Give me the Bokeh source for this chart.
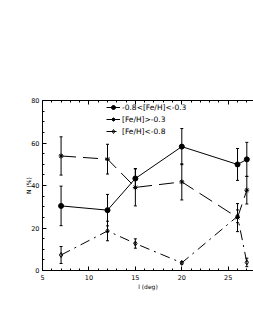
from bokeh.plotting import figure
from bokeh.models import (Range1d, LinearAxis, SingleIntervalTicker, Whisker, TeeHead,
                          ColumnDataSource, Legend, LegendItem)
from bokeh.embed import file_html
from bokeh.resources import INLINE

# data
l_deg = [7, 12, 15, 20, 26, 27]
mid_vals = [30.4, 28.4, 43.3, 58.3, 49.9, 52.3]      # -0.8<[Fe/H]<-0.3
mid_err = [9.3, 7.4, 4.7, 8.5, 7.5, 8.0]
rich_vals = [53.9, 52.4, 39.1, 41.7, 24.9, 37.8]     # [Fe/H]>-0.3
rich_err = [9.0, 7.0, 8.7, 8.5, 6.6, 6.5]
poor_vals = [7.3, 18.6, 12.7, 3.6, 25.5, 3.8]        # [Fe/H]<-0.8
poor_err = [4.0, 4.6, 2.2, 0.6, 3.0, 2.0]
labels = ["-0.8<[Fe/H]<-0.3", "[Fe/H]>-0.3", "[Fe/H]<-0.8"]
x_ticks = [5, 10, 15, 20, 25]

FONT = "DejaVu Sans"

p = figure(width=253, height=300, x_range=Range1d(5, 27.72), y_range=Range1d(0, 80),
           output_backend="svg", toolbar_location=None,
           min_border_left=42, min_border_right=0, min_border_top=100, min_border_bottom=30,
           x_axis_label="l (deg)", y_axis_label="N (%)")
p.grid.visible = False
p.outline_line_color = None
p.background_fill_color = "white"

bottom = p.below[0]
left = p.left[0]
bottom.ticker = SingleIntervalTicker(interval=5, num_minor_ticks=5)
left.ticker = SingleIntervalTicker(interval=20, num_minor_ticks=4)

top = LinearAxis(ticker=SingleIntervalTicker(interval=5, num_minor_ticks=5),
                 major_label_overrides={t: "" for t in x_ticks})
p.add_layout(top, "above")

for ax in [bottom, left, top]:
    ax.major_tick_in = 4
    ax.major_tick_out = 0
    ax.minor_tick_in = 2
    ax.minor_tick_out = 0
    ax.axis_line_color = "black"
    ax.major_tick_line_color = "black"
    ax.minor_tick_line_color = "black"
    ax.major_label_text_font = FONT
    ax.major_label_text_font_size = "6.5px"
    ax.major_label_text_color = "black"
    ax.axis_label_text_font = FONT
    ax.axis_label_text_font_size = "6px"
    ax.axis_label_text_font_style = "normal"
    ax.axis_label_text_color = "black"

bottom.major_label_standoff = 4
bottom.axis_label_standoff = 0
left.major_label_standoff = 3
left.axis_label_standoff = -4

def add_series(vals, errs, marker, dash, fill):
    up = [v + e for v, e in zip(vals, errs)]
    lo = [v - e for v, e in zip(vals, errs)]
    src = ColumnDataSource(dict(x=l_deg, y=vals, up=up, lo=lo))
    w = Whisker(source=src, base="x", upper="up", lower="lo", line_color="black", line_width=1,
                upper_head=TeeHead(size=3, line_color="black", line_width=1),
                lower_head=TeeHead(size=3, line_color="black", line_width=1))
    p.add_layout(w)
    ln = p.line("x", "y", source=src, line_color="black", line_width=1, line_dash=dash)
    sc = p.scatter("x", "y", source=src, marker=marker, size=5, line_color="black",
                   fill_color=fill, line_width=1)
    return [ln, sc]

r1 = add_series(mid_vals, mid_err, "circle", "solid", "black")
r2 = add_series(rich_vals, rich_err, "asterisk", "15 7", "black")
r3 = add_series(poor_vals, poor_err, "diamond", "10 5 2 5", None)

legend = Legend(items=[LegendItem(label=labels[0], renderers=r1),
                       LegendItem(label=labels[1], renderers=r2),
                       LegendItem(label=labels[2], renderers=r3)],
                location=(64, 134), label_text_font=FONT, label_text_font_size="7.5px",
                label_text_color="black", glyph_width=14, glyph_height=10, label_height=10,
                spacing=2, padding=0, margin=0, label_standoff=2,
                background_fill_alpha=0, border_line_color=None)
p.add_layout(legend)

open("out.html", "w").write(file_html(p, INLINE))
